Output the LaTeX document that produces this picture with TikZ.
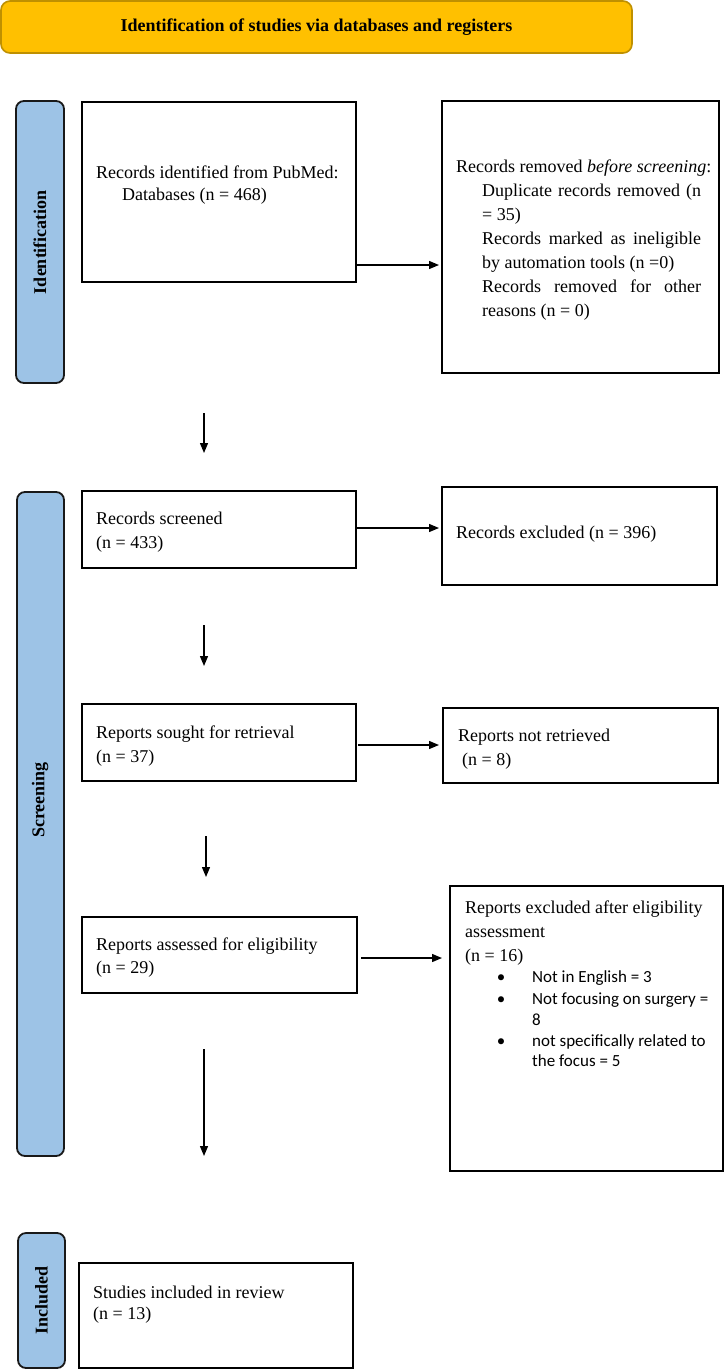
\documentclass[tikz,border=0pt]{standalone}
\usepackage{fontspec}
\setmainfont{Liberation Serif}
\newfontfamily\calib{Carlito}
\usetikzlibrary{arrows.meta}
\definecolor{gold}{HTML}{FFC000}
\definecolor{golddark}{HTML}{BF9000}
\definecolor{sideblue}{HTML}{9DC3E6}
\begin{document}
\begin{tikzpicture}[x=1pt,y=-1pt,
  box/.style={draw=black, line width=1.6pt, fill=white, inner sep=0pt, outer sep=0pt, anchor=north west},
  side/.style={draw=black!90, line width=1.8pt, fill=sideblue, rounded corners=8pt, inner sep=0pt, outer sep=0pt, anchor=north west},
  txt/.style={anchor=base west, inner sep=0pt, font=\fontsize{18}{24}\selectfont},
  btxt/.style={anchor=base west, inner sep=0pt, font=\calib\fontsize{17}{20}\selectfont},
  bullet/.style={anchor=base, inner sep=0pt, font=\calib\fontsize{17}{20}\selectfont},
  arr/.style={line width=1.3pt, -{Triangle[length=10pt,width=8pt]}},
  sidelabel/.style={rotate=90, font=\bfseries\fontsize{18}{22}\selectfont, inner sep=0pt}
]
\useasboundingbox (0,0) rectangle (725,1369);
\fill[white] (0,0) rectangle (725,1369);

% title
\node[box, draw=golddark, fill=gold, rounded corners=9pt, minimum width=631pt, minimum height=52pt] (title) at (1,1) {};
\node[font=\bfseries\fontsize{18}{22}\selectfont, inner sep=0pt] (titletxt) at (title.center) {Identification of studies via databases and registers};

% side bars
\node[side, minimum width=48pt, minimum height=282pt] (s1) at (16,101) {};
\node[sidelabel] (l1) at (s1.center) {Identification};
\node[side, minimum width=47pt, minimum height=664pt] (s2) at (17,492) {};
\coordinate (l2pos) at (40,800);
\node[sidelabel] (l2) at (l2pos) {Screening};
\node[side, minimum width=47pt, minimum height=135pt] (s3) at (18,1233) {};
\node[sidelabel] (l3) at (s3.center) {Included};

% boxes
\node[box, minimum width=274pt, minimum height=180pt] (b1) at (82,102) {};
\node[box, minimum width=277pt, minimum height=272pt] (b2) at (442,101) {};
\node[box, minimum width=274pt, minimum height=77pt] (b3) at (82,491) {};
\node[box, minimum width=275pt, minimum height=98pt] (b4) at (442,487) {};
\node[box, minimum width=274pt, minimum height=77pt] (b5) at (82,704) {};
\node[box, minimum width=275pt, minimum height=75pt] (b6) at (443,708) {};
\node[box, minimum width=275pt, minimum height=76pt] (b7) at (82,917) {};
\node[box, minimum width=273pt, minimum height=285pt] (b8) at (450,886) {};
\node[box, minimum width=274pt, minimum height=105pt] (b9) at (79,1263) {};

% box texts
\node[txt] (t1a) at (96,178) {Records identified from PubMed:};
\node[txt] (t1b) at (122,200) {Databases (n = 468)};

\node[txt] (t2a) at (456,172) {Records removed \textit{before screening}:};
\node[txt] (t2b) at (482,196) {\makebox[219pt][s]{Duplicate records removed (n}};
\node[txt] (t2c) at (482,220) {= 35)};
\node[txt] (t2d) at (482,244) {\makebox[219pt][s]{Records marked as ineligible}};
\node[txt] (t2e) at (482,268) {by automation tools (n =0)};
\node[txt] (t2f) at (482,292) {\makebox[219pt][s]{Records removed for other}};
\node[txt] (t2g) at (482,316) {reasons (n = 0)};

\node[txt] (t3a) at (96,524) {Records screened};
\node[txt] (t3b) at (96,548) {(n = 433)};
\node[txt] (t4a) at (456,538) {Records excluded (n = 396)};

\node[txt] (t5a) at (96,738) {Reports sought for retrieval};
\node[txt] (t5b) at (96,762) {(n = 37)};
\node[txt] (t6a) at (458,741) {Reports not retrieved};
\node[txt] (t6b) at (462,765) {(n = 8)};

\node[txt] (t7a) at (96,950) {Reports assessed for eligibility};
\node[txt] (t7b) at (96,973) {(n = 29)};

\node[txt] (t8a) at (465,913) {Reports excluded after eligibility};
\node[txt] (t8b) at (465,937) {assessment};
\node[txt] (t8c) at (465,961) {(n = 16)};
\node[bullet] (bu1) at (501,982) {•};
\node[btxt] (t8d) at (532,982) {Not in English = 3};
\node[bullet] (bu2) at (501,1004) {•};
\node[btxt] (t8e) at (532,1004) {Not focusing on surgery =};
\node[btxt] (t8f) at (532,1025) {8};
\node[bullet] (bu3) at (501,1046) {•};
\node[btxt] (t8g) at (532,1046) {not specifically related to};
\node[btxt] (t8h) at (532,1066) {the focus = 5};

\node[txt] (t9a) at (93,1298) {Studies included in review};
\node[txt] (t9b) at (93,1319) {(n = 13)};

% horizontal arrows
\coordinate (h1) at (0,265);
\coordinate (h2) at (0,528);
\coordinate (h3) at (0,745);
\coordinate (h4) at (0,958);
\draw[arr, shorten >=3pt] (b1.east |- h1) -- (b2.west |- h1);
\draw[arr, shorten >=3pt] (b3.east |- h2) -- (b4.west |- h2);
\draw[arr, shorten <=2pt, shorten >=4pt] (b5.east |- h3) -- (b6.west |- h3);
\draw[arr, shorten <=4pt, shorten >=8pt] (b7.east |- h4) -- (b8.west |- h4);

% vertical arrows
\coordinate (d1s) at (204,413); \coordinate (d1e) at (204,453);
\coordinate (d2s) at (204,625); \coordinate (d2e) at (204,666);
\coordinate (d3s) at (206,836); \coordinate (d3e) at (206,877);
\coordinate (d4s) at (204,1049); \coordinate (d4e) at (204,1156);
\draw[arr] (d1s) -- (d1e);
\draw[arr] (d2s) -- (d2e);
\draw[arr] (d3s) -- (d3e);
\draw[arr] (d4s) -- (d4e);
\end{tikzpicture}
\end{document}
